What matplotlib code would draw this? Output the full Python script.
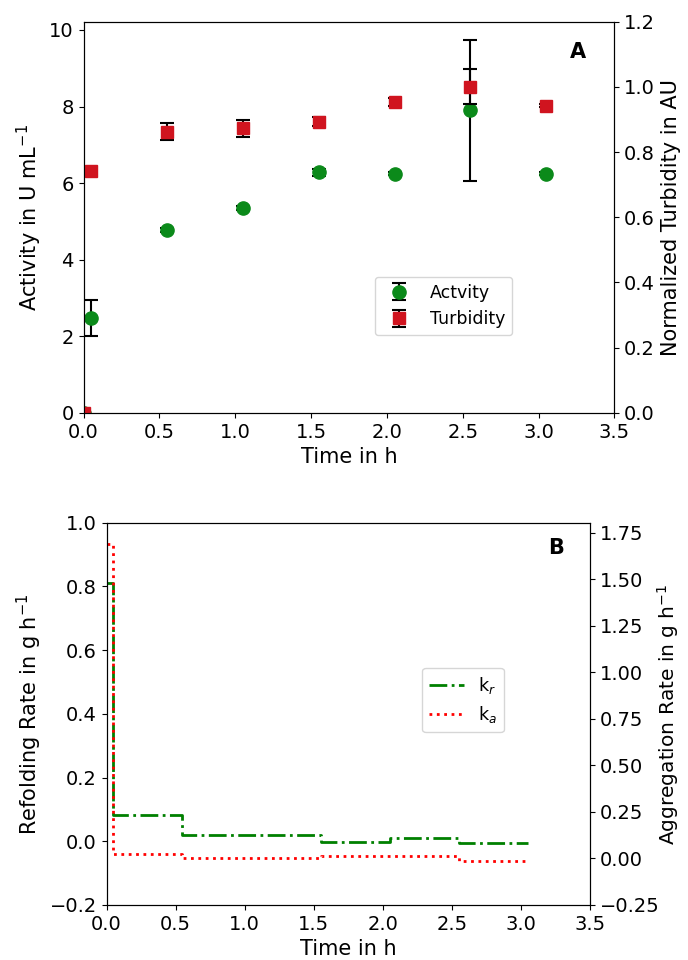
import numpy as np
import matplotlib
matplotlib.use("Agg")
import matplotlib.pyplot as plt

# dati pannello A
t_misure = [0.0, 0.05, 0.55, 1.05, 1.55, 2.05, 2.55, 3.05]
attivita = [0.0, 2.49, 4.78, 5.35, 6.28, 6.25, 7.90, 6.25]
err_attivita = [0.0, 0.47, 0.05, 0.06, 0.09, 0.05, 1.85, 0.05]
torbidita = [0.0, 0.743, 0.862, 0.873, 0.893, 0.952, 1.0, 0.942]
err_torbidita = [0.0, 0.004, 0.026, 0.026, 0.013, 0.012, 0.054, 0.004]

# dati pannello B (gradini)
t_step = [0.0, 0.05, 0.55, 1.05, 1.55, 2.05, 2.55, 3.05]
k_r = [0.81, 0.082, 0.020, 0.020, -0.002, 0.010, -0.004, -0.004]
k_a = [1.692, 0.025, 0.0, 0.0, 0.011, 0.011, -0.014, -0.014]

fs_tick = 14
fs_lab = 15

fig = plt.figure(figsize=(6.88, 9.6), dpi=100)

# --- A ---
ax1 = fig.add_axes([0.1215, 0.5698, 0.7716, 0.4078])
ax2 = ax1.twinx()
h1 = ax1.errorbar(t_misure, attivita, yerr=err_attivita, fmt='o', color='#0b8a1a',
                  ms=9.5, ecolor='black', elinewidth=1.5, capsize=5, capthick=1.5,
                  label='Actvity')
h2 = ax2.errorbar(t_misure, torbidita, yerr=err_torbidita, fmt='s', color='#d0141f',
                  ms=8, ecolor='black', elinewidth=1.5, capsize=5, capthick=1.5,
                  label='Turbidity')
ax1.set_xlim(0, 3.5)
ax1.set_ylim(0, 10.22)
ax2.set_ylim(0, 1.2)
ax1.set_xticks(np.arange(0, 3.51, 0.5))
ax1.set_yticks([0, 2, 4, 6, 8, 10])
ax2.set_yticks(np.arange(0, 1.21, 0.2))
ax1.set_xlabel('Time in h', fontsize=fs_lab)
ax1.set_ylabel('Activity in U mL$^{-1}$', fontsize=fs_lab)
ax2.set_ylabel('Normalized Turbidity in AU', fontsize=fs_lab)
ax1.tick_params(labelsize=fs_tick)
ax2.tick_params(labelsize=fs_tick)
ax2.legend([h1, h2], ['Actvity', 'Turbidity'], loc='center',
           bbox_to_anchor=(0.678, 0.273), fontsize=12.5)
ax2.text(0.932, 0.922, 'A', transform=ax1.transAxes, fontsize=15,
         fontweight='bold', ha='center', va='center')

# --- B ---
ax3 = fig.add_axes([0.1548, 0.0573, 0.7028, 0.3982])
ax4 = ax3.twinx()
l1, = ax3.plot(t_step, k_r, '-.', color='green', lw=2, drawstyle='steps-post',
               label='k$_r$')
l2, = ax4.plot(t_step, k_a, ':', color='red', lw=2, drawstyle='steps-post',
               label='k$_a$')
ax3.set_xlim(0, 3.5)
ax3.set_ylim(-0.2, 1.0)
ax4.set_ylim(-0.25, 1.805)
ax3.set_xticks(np.arange(0, 3.51, 0.5))
ax3.set_yticks(np.arange(-0.2, 1.01, 0.2))
ax4.set_yticks(np.arange(-0.25, 1.76, 0.25))
ax3.set_xlabel('Time in h', fontsize=fs_lab)
ax3.set_ylabel('Refolding Rate in g h$^{-1}$', fontsize=fs_lab)
ax4.set_ylabel('Aggregation Rate in g h$^{-1}$', fontsize=14.5, labelpad=-3)
ax3.tick_params(labelsize=fs_tick)
ax4.tick_params(labelsize=fs_tick)
ax4.legend([l1, l2], ['k$_r$', 'k$_a$'], loc='center',
           bbox_to_anchor=(0.737, 0.536), fontsize=12.5)
ax4.text(0.929, 0.934, 'B', transform=ax3.transAxes, fontsize=15,
         fontweight='bold', ha='center', va='center')

fig.savefig('out.png', dpi=100)
